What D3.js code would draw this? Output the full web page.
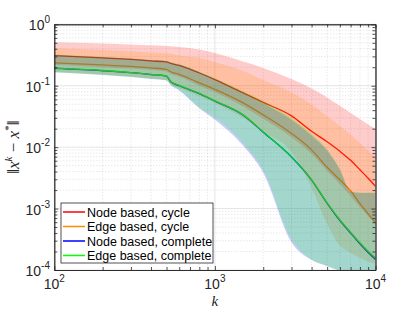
<!DOCTYPE html>
<html>
<head>
<meta charset="utf-8">
<script src="https://cdn.jsdelivr.net/npm/d3@7"></script>
<style>
body { margin: 0; background: #fff; }
svg { display: block; font-family: "Liberation Sans", Arial, sans-serif; }
</style>
</head>
<body>
<svg id="chart" width="415" height="312"></svg>
<script>
var iterations = [100, 200, 300, 400, 500, 530, 600, 800, 1000, 1500, 2000, 3000, 4000, 5000, 6000, 7000, 8000, 9000, 10000];

// Node based, cycle
var nodeCycleMid  = [0.308, 0.283, 0.268, 0.253, 0.244, 0.231, 0.214, 0.161, 0.126, 0.0764, 0.0535, 0.0323, 0.0181, 0.0122, 0.00855, 0.0061, 0.00428, 0.00311, 0.0023];
var nodeCycleHigh = [0.509, 0.488, 0.47, 0.456, 0.444, 0.44, 0.428, 0.389, 0.341, 0.248, 0.195, 0.129, 0.0904, 0.0646, 0.047, 0.0361, 0.0288, 0.0234, 0.0199];
var nodeCycleLow  = [0.22, 0.2, 0.19, 0.18, 0.17, 0.155, 0.14, 0.1, 0.078, 0.046, 0.029, 0.0145, 0.0078, 0.0041, 0.0025, 0.0016, 0.00105, 0.00075, 0.00055];

// Edge based, cycle
var edgeCycleMid  = [0.235, 0.218, 0.206, 0.195, 0.185, 0.169, 0.153, 0.111, 0.0871, 0.0525, 0.0335, 0.0167, 0.00904, 0.0047, 0.00294, 0.00195, 0.0012, 0.00082, 0.000587];
var edgeCycleHigh = [0.407, 0.382, 0.364, 0.348, 0.337, 0.331, 0.311, 0.283, 0.244, 0.174, 0.124, 0.0778, 0.0497, 0.0317, 0.0222, 0.0161, 0.0117, 0.0087, 0.0067];
var edgeCycleLow  = [0.1675, 0.153, 0.1416, 0.1315, 0.124, 0.107, 0.092, 0.0682, 0.0525, 0.0299, 0.0177, 0.0084, 0.00219, 0.00056, 0.00025, 0.00019, 0.000158, 0.000138, 0.000126];

// Node based, complete
var nodeCompleteMid  = [0.191, 0.175, 0.163, 0.152, 0.143, 0.116, 0.1, 0.0742, 0.056, 0.0331, 0.0175, 0.0069, 0.00291, 0.00122, 0.00064, 0.000398, 0.000266, 0.000192, 0.000148];
var nodeCompleteHigh = [0.316, 0.29, 0.275, 0.26, 0.25, 0.237, 0.219, 0.165, 0.128, 0.076, 0.052, 0.028, 0.0155, 0.0088, 0.0043, 0.0019, 0.0018, 0.0018, 0.0018];
var nodeCompleteLow  = [0.165, 0.15, 0.139, 0.129, 0.122, 0.103, 0.084, 0.043, 0.028, 0.0105, 0.0038, 0.00028, 0.000145, 0.000115, 0.0000977, 0.0000891, 0.0000832, 0.0000759, 0.0000708];

// Edge based, complete
var edgeCompleteMid  = [0.193, 0.177, 0.164, 0.153, 0.144, 0.1175, 0.101, 0.075, 0.0566, 0.0335, 0.0177, 0.00695, 0.00294, 0.00124, 0.000658, 0.000412, 0.000278, 0.000202, 0.000157];
var edgeCompleteHigh = [0.325, 0.297, 0.281, 0.266, 0.256, 0.243, 0.225, 0.17, 0.133, 0.082, 0.057, 0.03, 0.0165, 0.0092, 0.0045, 0.0019, 0.00182, 0.00182, 0.00182];
var edgeCompleteLow  = [0.166, 0.151, 0.14, 0.13, 0.123, 0.104, 0.085, 0.044, 0.03, 0.0115, 0.0042, 0.00031, 0.000148, 0.000117, 0.0000977, 0.0000891, 0.0000832, 0.0000759, 0.0000708];

var seriesNames = ["Node based, cycle", "Edge based, cycle", "Node based, complete", "Edge based, complete"];
var seriesColors = ["#ff0000", "#ff8c00", "#0000ff", "#00ff00"];

var xTicks = [100, 1000, 10000];
var xTickExp = ["2", "3", "4"];
var yTicks = [1, 0.1, 0.01, 0.001, 0.0001];
var yTickExp = ["0", "-1", "-2", "-3", "-4"];

var series = [
    { mid: nodeCycleMid, low: nodeCycleLow, high: nodeCycleHigh },
    { mid: edgeCycleMid, low: edgeCycleLow, high: edgeCycleHigh },
    { mid: nodeCompleteMid, low: nodeCompleteLow, high: nodeCompleteHigh },
    { mid: edgeCompleteMid, low: edgeCompleteLow, high: edgeCompleteHigh }
];
series.forEach(function (s, i) {
    s.name = seriesNames[i];
    s.color = seriesColors[i];
    s.points = iterations.map(function (k, j) {
        return { k: k, mid: s.mid[j], low: s.low[j], high: s.high[j] };
    });
});

var pLeft = 54.3, pRight = 375.5, pTop = 24.3, pBottom = 270;
var svg = d3.select("#chart");

var x = d3.scaleLog().domain([100, 10000]).range([pLeft, pRight]);
var y = d3.scaleLog().domain([0.0001, 1]).range([pBottom, pTop]);

var minorX = [], minorY = [];
[100, 1000].forEach(function (d) {
    for (var m = 2; m <= 9; m++) minorX.push(d * m);
});
[0.0001, 0.001, 0.01, 0.1].forEach(function (d) {
    for (var m = 2; m <= 9; m++) minorY.push(+(d * m).toPrecision(3));
});

// grid
var grid = svg.append("g");
grid.selectAll(".gxm").data(minorX).enter().append("line")
    .attr("x1", x).attr("x2", x).attr("y1", pTop).attr("y2", pBottom)
    .attr("stroke", "rgba(38,38,38,0.25)").attr("stroke-width", 0.6)
    .attr("stroke-dasharray", "1,2");
grid.selectAll(".gym").data(minorY).enter().append("line")
    .attr("y1", y).attr("y2", y).attr("x1", pLeft).attr("x2", pRight)
    .attr("stroke", "rgba(38,38,38,0.25)").attr("stroke-width", 0.6)
    .attr("stroke-dasharray", "1,2");
grid.selectAll(".gx").data(xTicks).enter().append("line")
    .attr("x1", x).attr("x2", x).attr("y1", pTop).attr("y2", pBottom)
    .attr("stroke", "rgba(38,38,38,0.15)").attr("stroke-width", 0.8);
grid.selectAll(".gy").data(yTicks).enter().append("line")
    .attr("y1", y).attr("y2", y).attr("x1", pLeft).attr("x2", pRight)
    .attr("stroke", "rgba(38,38,38,0.15)").attr("stroke-width", 0.8);

svg.append("clipPath").attr("id", "plotClip").append("rect")
    .attr("x", pLeft).attr("y", pTop).attr("width", pRight - pLeft).attr("height", pBottom - pTop);

var plot = svg.append("g").attr("clip-path", "url(#plotClip)");

var line = d3.line()
    .x(function (d) { return x(d.k); })
    .y(function (d) { return y(d.mid); })
    .curve(d3.curveMonotoneX);

var area = d3.area()
    .x(function (d) { return x(d.k); })
    .y0(function (d) { return y(d.low); })
    .y1(function (d) { return y(d.high); })
    .curve(d3.curveMonotoneX);

// lines first, shaded ranges drawn over them
series.forEach(function (s) {
    plot.append("path").datum(s.points)
        .attr("d", line)
        .attr("fill", "none")
        .attr("stroke", s.color)
        .attr("stroke-width", 1.3);
});
series.forEach(function (s) {
    plot.append("path").datum(s.points)
        .attr("d", area)
        .attr("fill", s.color)
        .attr("fill-opacity", 0.2)
        .attr("stroke", "none");
});

// axes
var axisColor = "#262626";
function styleAxis(g) {
    g.select(".domain").attr("stroke", axisColor).attr("stroke-width", 0.8);
    g.selectAll(".tick line").attr("stroke", axisColor).attr("stroke-width", 0.8);
    g.selectAll(".tick text").remove();
}
svg.append("g").attr("transform", "translate(0," + pBottom + ")")
    .call(d3.axisBottom(x).tickValues(xTicks).tickSizeInner(-4).tickSizeOuter(0)).call(styleAxis);
svg.append("g").attr("transform", "translate(0," + pBottom + ")")
    .call(d3.axisBottom(x).tickValues(minorX).tickSizeInner(-3).tickSizeOuter(0)).call(styleAxis);
svg.append("g").attr("transform", "translate(0," + pTop + ")")
    .call(d3.axisTop(x).tickValues(xTicks).tickSizeInner(-4).tickSizeOuter(0)).call(styleAxis);
svg.append("g").attr("transform", "translate(0," + pTop + ")")
    .call(d3.axisTop(x).tickValues(minorX).tickSizeInner(-3).tickSizeOuter(0)).call(styleAxis);
svg.append("g").attr("transform", "translate(" + pLeft + ",0)")
    .call(d3.axisLeft(y).tickValues(yTicks).tickSizeInner(-4).tickSizeOuter(0)).call(styleAxis);
svg.append("g").attr("transform", "translate(" + pLeft + ",0)")
    .call(d3.axisLeft(y).tickValues(minorY).tickSizeInner(-3).tickSizeOuter(0)).call(styleAxis);
svg.append("g").attr("transform", "translate(" + pRight + ",0)")
    .call(d3.axisRight(y).tickValues(yTicks).tickSizeInner(-4).tickSizeOuter(0)).call(styleAxis);
svg.append("g").attr("transform", "translate(" + pRight + ",0)")
    .call(d3.axisRight(y).tickValues(minorY).tickSizeInner(-3).tickSizeOuter(0)).call(styleAxis);

// tick labels 10^n
svg.selectAll(".xlab").data(xTicks).enter().append("text")
    .attr("x", function (d) { return x(d); })
    .attr("y", 289)
    .attr("text-anchor", "middle")
    .attr("fill", axisColor)
    .each(function (d, i) {
        var t = d3.select(this);
        t.append("tspan").attr("font-size", 14).text("10");
        t.append("tspan").attr("font-size", 10).attr("dy", -7).text(xTickExp[i]);
    });
svg.selectAll(".ylab").data(yTicks).enter().append("text")
    .attr("x", 50)
    .attr("y", function (d) { return y(d) + 6; })
    .attr("text-anchor", "end")
    .attr("fill", axisColor)
    .each(function (d, i) {
        var t = d3.select(this);
        t.append("tspan").attr("font-size", 14).text("10");
        t.append("tspan").attr("font-size", 10).attr("dy", -7).text(yTickExp[i]);
    });

// axis titles
svg.append("text")
    .attr("x", (pLeft + pRight) / 2).attr("y", 306)
    .attr("text-anchor", "middle")
    .attr("font-family", "'Liberation Serif', 'DejaVu Serif', serif")
    .attr("font-style", "italic").attr("font-size", 15)
    .attr("fill", axisColor)
    .text("k");

var ylab = svg.append("text")
    .attr("transform", "translate(19," + ((pTop + pBottom) / 2) + ") rotate(-90)")
    .attr("text-anchor", "middle")
    .attr("font-family", "'Liberation Serif', 'DejaVu Serif', serif")
    .attr("font-size", 17)
    .attr("fill", axisColor);
ylab.append("tspan").text("\u2016");
ylab.append("tspan").attr("font-style", "italic").text("x");
ylab.append("tspan").attr("font-style", "italic").attr("font-size", 11).attr("dy", -7).text("k");
ylab.append("tspan").attr("dy", 7).text(" \u2212 ");
ylab.append("tspan").attr("font-style", "italic").text("x");
ylab.append("tspan").attr("font-size", 11).attr("dy", -7).text("*");
ylab.append("tspan").attr("dy", 7).text("\u2016");

// legend
var lg = svg.append("g").attr("transform", "translate(61,203)");
lg.append("rect").attr("width", 152).attr("height", 60)
    .attr("fill", "#fff").attr("stroke", axisColor).attr("stroke-width", 0.8);
var item = lg.selectAll(".item").data(series).enter().append("g")
    .attr("transform", function (d, i) { return "translate(0," + (9 + i * 14.5) + ")"; });
item.append("line").attr("x1", 2).attr("x2", 24).attr("y1", 0).attr("y2", 0)
    .attr("stroke", function (d) { return d.color; }).attr("stroke-width", 1.5);
item.append("text").attr("x", 26).attr("y", 4.5)
    .attr("font-size", 12.5).attr("fill", "#000")
    .text(function (d) { return d.name; });
</script>
</body>
</html>
